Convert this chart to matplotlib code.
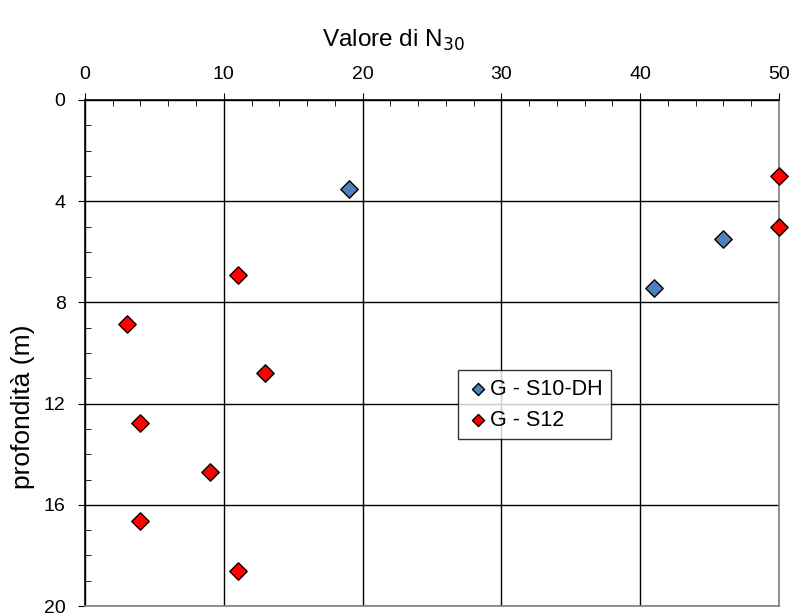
import numpy as np
import matplotlib.pyplot as plt
from matplotlib.ticker import MultipleLocator

plt.rcParams['font.family'] = ['Liberation Sans', 'DejaVu Sans']

# G - S10-DH
n30_s10 = [19, 46, 41]
z_s10 = [3.5, 5.5, 7.45]
# G - S12
n30_s12 = [50, 50, 11, 3, 13, 4, 9, 4, 11]
z_s12 = [3.0, 5.0, 6.9, 8.85, 10.8, 12.75, 14.7, 16.65, 18.6]

fig = plt.figure(figsize=(7.98, 6.15), dpi=100)
ax = fig.add_axes([0.1065, 0.0146, 0.8695, 0.8228])

ax.set_xlim(0, 50)
ax.set_ylim(20, 0)
ax.grid(True, which='major', color='black', linewidth=1.0)
ax.set_axisbelow(True)

ax.scatter(n30_s10, z_s10, marker='D', s=78, color='#4F81BD', edgecolors='black',
           linewidths=1.0, zorder=3, clip_on=False, label='G - S10-DH')
ax.scatter(n30_s12, z_s12, marker='D', s=78, color='#FF0000', edgecolors='black',
           linewidths=1.0, zorder=3, clip_on=False, label='G - S12')

ax.xaxis.set_ticks_position('top')
ax.xaxis.set_label_position('top')
ax.xaxis.set_major_locator(MultipleLocator(10))
ax.xaxis.set_minor_locator(MultipleLocator(2))
ax.yaxis.set_major_locator(MultipleLocator(4))
ax.yaxis.set_minor_locator(MultipleLocator(1))
ax.tick_params(axis='x', which='major', direction='out', length=5, labelsize=14, pad=7)
ax.tick_params(axis='x', which='minor', direction='in', length=4)
ax.tick_params(axis='y', which='major', direction='out', length=5, labelsize=14, pad=9)
ax.tick_params(axis='y', which='minor', direction='in', length=4)

ax.spines['top'].set_color('black')
ax.spines['left'].set_color('black')
ax.spines['right'].set_color('#808080')
ax.spines['bottom'].set_color('#808080')
for s in ax.spines.values():
    s.set_linewidth(1.2)

ax.set_xlabel('Valore di N$_{30}$', fontsize=17.5)
ax.xaxis.set_label_coords(0.445, 1.105)
ax.set_ylabel('profondità (m)', fontsize=19)
ax.yaxis.set_label_coords(-0.072, 0.393)

leg = ax.legend(loc='upper left', bbox_to_anchor=(0.537, 0.466), fontsize=15.5,
                frameon=True, fancybox=False, edgecolor='black', handletextpad=0.0,
                handlelength=1.1, borderpad=0.4, labelspacing=0.45, markerscale=0.7,
                borderaxespad=0)
leg.get_frame().set_linewidth(1.0)

fig.savefig('out.png', dpi=100)
